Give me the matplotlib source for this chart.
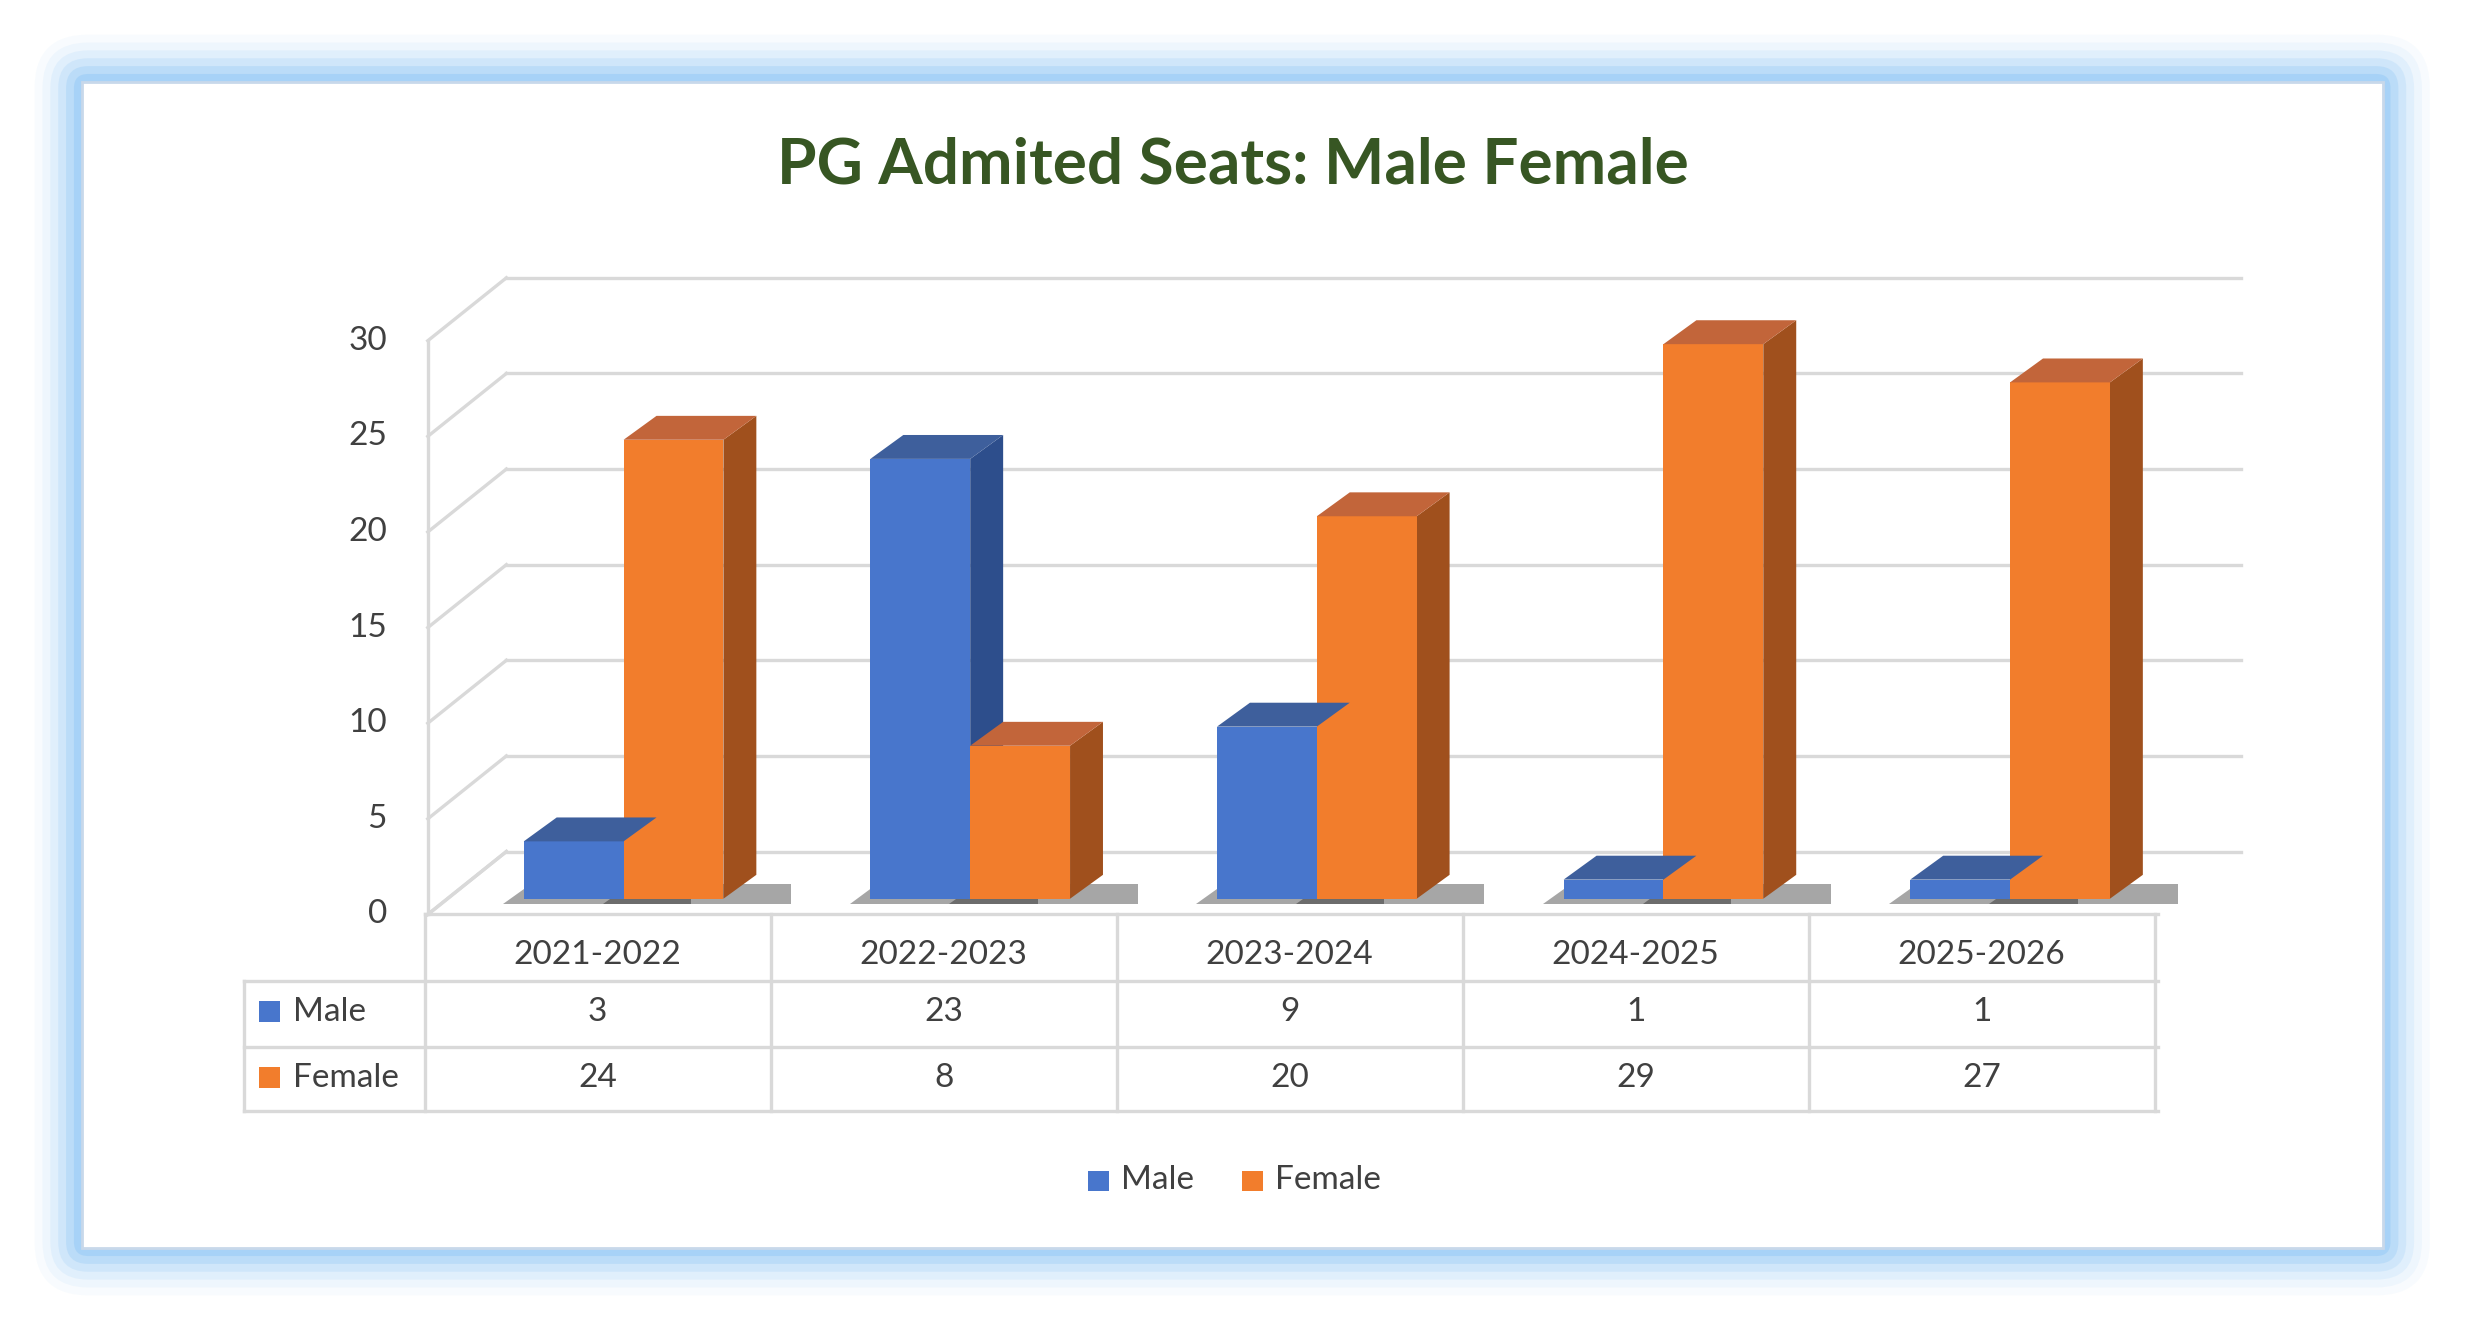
import matplotlib
matplotlib.use("Agg")
import matplotlib.pyplot as plt
from matplotlib.patches import Polygon, Rectangle, FancyBboxPatch

plt.rcParams["font.family"] = ["Lato", "DejaVu Sans"]

years = ["2021-2022", "2022-2023", "2023-2024", "2024-2025", "2025-2026"]
male = [3, 23, 9, 1, 1]
female = [24, 8, 20, 29, 27]
series = ["Male", "Female"]
y_ticks = [0, 5, 10, 15, 20, 25, 30]

W, H = 1568, 845
MALE = dict(front="#4876cc", top="#3e5f9c", side="#2d4e8c")
FEMALE = dict(front="#f27d2c", top="#c2653a", side="#a0501d")
TXT = "#404040"
GRID = "#d9d9d9"

fig = plt.figure(figsize=(12.33, 6.65), dpi=200, facecolor="white")

# overlay in pixel coordinates of the reference
bg = fig.add_axes([0, 0, 1, 1])
bg.set_xlim(0, W)
bg.set_ylim(H, 0)
bg.axis("off")
for i, a in enumerate([0.05, 0.08, 0.12, 0.17, 0.24, 0.32]):
    pad = 30 - i * 5
    bg.add_patch(FancyBboxPatch((52 - pad, 52 - pad), 1463 + 2 * pad, 741 + 2 * pad,
                                boxstyle="round,pad=0,rounding_size=%d" % (pad + 4),
                                facecolor="#7fbff5", edgecolor="none", alpha=a))
bg.add_patch(Rectangle((52, 52), 1463, 741, facecolor="white", edgecolor="#c8d8ea", lw=1))
bg.text(784, 105, "PG Admited Seats: Male Female", ha="center", va="center",
        fontsize=23, fontweight="bold", color="#375623")

# y tick labels and left-side diagonals / back wall grid (pixel space)
PX = 12.15
for v in y_ticks:
    yf = 581 - PX * v
    bg.text(246, yf, str(v), ha="right", va="center", fontsize=12, color=TXT)
    bg.plot([272, 322], [yf, yf - 40], color=GRID, lw=1.2)
    bg.plot([322, 1425], [yf - 40, yf - 40], color=GRID, lw=1.2)
bg.plot([272, 272], [581, 581 - PX * 30], color=GRID, lw=1.2)
bg.plot([272, 322], [581, 541], color=GRID, lw=1.2)

# data table
cols = [155, 270] + [270 + 220 * (i + 1) for i in range(5)]
rows = [581, 623, 665, 706]
for y in rows:
    bg.plot([270 if y == 581 else 155, 1372], [y, y], color=GRID, lw=1.2)
for x in cols:
    bg.plot([x, x], [623 if x == 155 else 581, 706], color=GRID, lw=1.2)
for i, yr in enumerate(years):
    cx = 380 + 220 * i
    bg.text(cx, 607, yr, ha="center", va="center", fontsize=12, color=TXT)
    bg.text(cx, 643, str(male[i]), ha="center", va="center", fontsize=12, color=TXT)
    bg.text(cx, 685, str(female[i]), ha="center", va="center", fontsize=12, color=TXT)
for name, c, y in [("Male", MALE["front"], 643), ("Female", FEMALE["front"], 685)]:
    bg.add_patch(Rectangle((165, y - 7), 13, 13, facecolor=c))
    bg.text(186, y, name, ha="left", va="center", fontsize=12, color=TXT)

# legend
for name, c, x in [("Male", MALE["front"], 692), ("Female", FEMALE["front"], 790)]:
    bg.add_patch(Rectangle((x, 744), 13, 13, facecolor=c))
    bg.text(x + 21, 750, name, ha="left", va="center", fontsize=12, color=TXT)

# bars in data coordinates
ax = fig.add_axes([270 / W, 1 - 571 / H, 1102 / W, (571 - 177) / H])
ax.set_xlim(0, 5)
ax.set_ylim(0, (571 - 177) / PX)
ax.axis("off")
BW = 0.288
DX, DY = 0.095, 1.25


def bar3d(x0, h, col):
    ax.add_patch(Polygon([(x0 - 0.06, -0.3), (x0 + BW + DX + 0.1, -0.3),
                          (x0 + BW + DX + 0.1, DY * 0.6), (x0 + 0.02, DY * 0.6)],
                         closed=True, facecolor="black", alpha=0.35, edgecolor="none",
                         clip_on=False, zorder=1))
    ax.bar(x0, h, width=BW, align="edge", color=col["front"], zorder=3, clip_on=False)
    ax.add_patch(Polygon([(x0, h), (x0 + BW, h), (x0 + BW + DX, h + DY), (x0 + DX, h + DY)],
                         closed=True, facecolor=col["top"], edgecolor="none",
                         clip_on=False, zorder=3))
    ax.add_patch(Polygon([(x0 + BW, 0), (x0 + BW + DX, DY), (x0 + BW + DX, h + DY), (x0 + BW, h)],
                         closed=True, facecolor=col["side"], edgecolor="none",
                         clip_on=False, zorder=2))


for i in range(len(years)):
    bar3d(i + 0.286 + BW, female[i], FEMALE)
    bar3d(i + 0.286, male[i], MALE)

fig.savefig("out.png", dpi=200)
